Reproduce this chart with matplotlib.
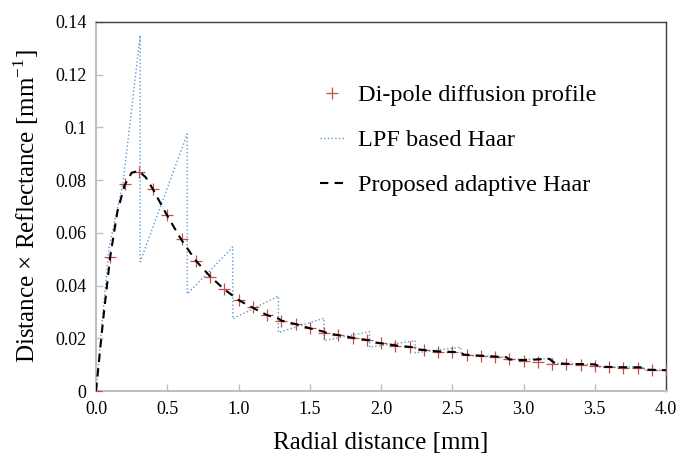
import numpy as np
import matplotlib
matplotlib.use('Agg')
import matplotlib.pyplot as plt
from matplotlib.ticker import FormatStrFormatter, FuncFormatter

plt.rcParams['font.family'] = ['Liberation Serif', 'DejaVu Serif']
plt.rcParams['mathtext.fontset'] = 'custom'
plt.rcParams['mathtext.rm'] = 'Liberation Serif'

# Di-pole diffusion profile, sampled every 0.1 mm
dipole_x = np.round(np.arange(0, 4.01, 0.1), 2)
dipole_y = [0.0, 0.0507, 0.0784, 0.0832, 0.0765, 0.0668, 0.0576, 0.0495, 0.0434, 0.0386,
            0.0345, 0.0318, 0.0288, 0.0267, 0.0254, 0.0238, 0.0221, 0.0212, 0.0202, 0.0194,
            0.0181, 0.0172, 0.0166, 0.0156, 0.0149, 0.0147, 0.0137, 0.0134, 0.0128, 0.0120,
            0.0115, 0.0111, 0.0104, 0.0102, 0.0100, 0.0093, 0.0091, 0.0089, 0.0087, 0.0081,
            0.0079]

# LPF based Haar (sawtooth)
lpf_x = [0.0, 0.09, 0.19, 0.31, 0.31, 0.64, 0.64, 0.96, 0.96, 1.28, 1.28, 1.6, 1.6,
         1.92, 1.92, 2.24, 2.24, 2.56, 2.56, 2.88, 2.88, 3.2, 3.2, 3.52, 3.52, 3.84, 3.84, 4.0]
lpf_y = [0.0, 0.054, 0.079, 0.135, 0.049, 0.0975, 0.0368, 0.0546, 0.0274, 0.0360, 0.0222,
         0.0276, 0.0191, 0.0225, 0.0166, 0.0191, 0.0145, 0.0166, 0.0137, 0.0129, 0.0119,
         0.0123, 0.0106, 0.0100, 0.0091, 0.0091, 0.0081, 0.0079]

# Proposed adaptive Haar
haar_x = [0.0, 0.05, 0.1, 0.15, 0.2, 0.25, 0.3, 0.35, 0.4, 0.5, 0.6, 0.7, 0.8, 0.9, 1.0,
          1.1, 1.2, 1.28, 1.3, 1.4, 1.5, 1.6, 1.62, 1.7, 1.8, 1.92, 1.94, 2.0, 2.1, 2.24,
          2.26, 2.4, 2.56, 2.58, 2.7, 2.88, 2.9, 3.0, 3.18, 3.22, 3.3, 3.5, 3.54, 3.7, 3.82,
          3.86, 4.0]
haar_y = [0.0, 0.027, 0.051, 0.068, 0.078, 0.0828, 0.0835, 0.081, 0.0765, 0.0665, 0.0573,
          0.0495, 0.0435, 0.0386, 0.0345, 0.0316, 0.0288, 0.0275, 0.0267, 0.0254, 0.0238,
          0.0225, 0.0219, 0.0212, 0.0202, 0.0192, 0.0186, 0.0181, 0.0173, 0.0165, 0.0158,
          0.0150, 0.0147, 0.0138, 0.0134, 0.0128, 0.0120, 0.0117, 0.0122, 0.0106, 0.0103,
          0.0101, 0.0092, 0.0090, 0.0090, 0.0081, 0.0079]

fig = plt.figure(figsize=(6.78, 4.59), dpi=100)
ax = fig.add_axes([96 / 678, 1 - 391 / 459, 570 / 678, 369 / 459])

ax.plot(dipole_x, dipole_y, linestyle='none', marker='+', markersize=9,
        markeredgewidth=0.9, color='#c0504d', label='Di-pole diffusion profile', zorder=3)
ax.plot(lpf_x, lpf_y, linestyle=':', color='#5b9bd5', linewidth=1.0,
        label='LPF based Haar', zorder=2)
ax.plot(haar_x, haar_y, linestyle=(0, (4, 3)), color='black', linewidth=1.5,
        label='Proposed adaptive Haar', zorder=4)

ax.set_xlim(0, 4.0)
ax.set_ylim(0, 0.14)
ax.set_xticks(np.arange(0, 4.01, 0.5))
ax.set_yticks(np.arange(0, 0.141, 0.02))
ax.xaxis.set_major_formatter(FormatStrFormatter('%.1f'))
ax.yaxis.set_major_formatter(FuncFormatter(lambda v, p: '%g' % round(v, 2)))
ax.tick_params(direction='in', length=5, width=1, colors='#bfbfbf',
               labelcolor='black', labelsize=13, pad=7)

for side in ['left', 'bottom']:
    ax.spines[side].set_color('#bfbfbf')
    ax.spines[side].set_linewidth(1.5)
for side in ['top', 'right']:
    ax.spines[side].set_color('#404040')
    ax.spines[side].set_linewidth(1.0)

ax.set_xlabel('Radial distance [mm]', fontsize=18, labelpad=10)
ax.set_ylabel('Distance \u00d7 Reflectance [mm$^{-1}$]', fontsize=18, labelpad=10)

ax.legend(loc='upper left', bbox_to_anchor=(308 / 678, 1 - 72 / 459),
          bbox_transform=fig.transFigure, frameon=False, fontsize=17.5,
          handlelength=1.0, handletextpad=0.55, labelspacing=0.95, borderpad=0)

fig.savefig('out.png', dpi=100)
